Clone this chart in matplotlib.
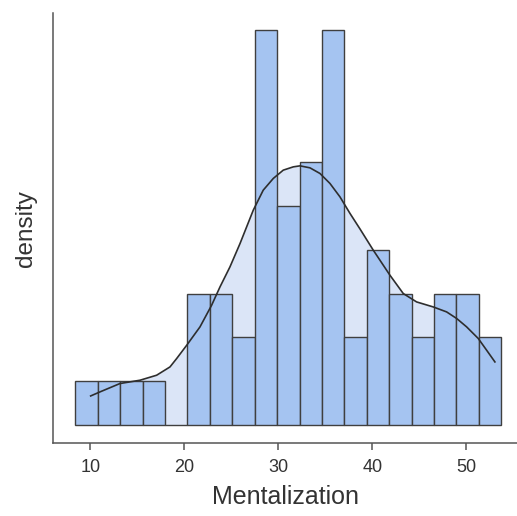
import numpy as np
import matplotlib.pyplot as plt

plt.rcParams['font.family'] = ['Liberation Sans', 'DejaVu Sans']

# histogram of Mentalization scores (counts per bin)
bin_edges = np.linspace(8.41, 53.73, 20)
counts = [1, 1, 1, 1, 0, 3, 3, 2, 9, 5, 6, 9, 2, 4, 3, 2, 3, 3, 2]

# density curve, on the count scale of the histogram
kde_x = [10.04, 11.03, 13.16, 15.29, 17.06, 18.48, 19.19, 20.26, 21.67, 22.91,
         23.80, 24.86, 25.93, 27.34, 28.40, 29.47, 30.53, 31.60, 32.31, 33.37,
         34.44, 35.50, 36.56, 37.63, 38.71, 40.11, 41.88, 43.30, 44.72, 46.49,
         47.91, 48.98, 50.04, 51.28, 52.17, 53.05]
kde_y = [0.667, 0.759, 0.950, 1.025, 1.139, 1.328, 1.519, 1.822, 2.239, 2.733,
         3.150, 3.606, 4.137, 4.897, 5.353, 5.620, 5.809, 5.884, 5.907, 5.862,
         5.733, 5.506, 5.202, 4.824, 4.465, 3.986, 3.417, 2.999, 2.808, 2.694,
         2.581, 2.431, 2.240, 1.975, 1.708, 1.442]

bar_col = '#A5C4F1'
fill_col = '#DBE5F7'
edge_col = '#3F3F3F'
txt_col = '#333333'

fig = plt.figure(figsize=(5.17, 5.16), dpi=100)
ax = fig.add_axes([0.103, 0.141, 0.897, 0.834])

ax.fill_between(kde_x, 0, kde_y, color=fill_col, lw=0, zorder=1)
ax.bar(bin_edges[:-1], counts, width=np.diff(bin_edges), align='edge',
       color=bar_col, edgecolor=edge_col, linewidth=1.0, zorder=2)
ax.plot(kde_x, kde_y, color='#2E2E2E', lw=1.2, zorder=3,
        solid_joinstyle='round')

ax.set_xlim(6.06, 55.4)
ax.set_ylim(-0.41, 9.39)
ax.set_xticks([10, 20, 30, 40, 50])
ax.set_yticks([])

for side in ['top', 'right']:
    ax.spines[side].set_visible(False)
for side in ['left', 'bottom']:
    ax.spines[side].set_color('#555555')
    ax.spines[side].set_linewidth(1.1)

ax.tick_params(axis='x', length=5, width=1.1, color='#555555',
               labelsize=13, labelcolor=txt_col, pad=6)

ax.set_xlabel('Mentalization', fontsize=18, color=txt_col, labelpad=7)
ax.set_ylabel('density', fontsize=17.5, color=txt_col, labelpad=12)

fig.savefig('out.png', dpi=100)
